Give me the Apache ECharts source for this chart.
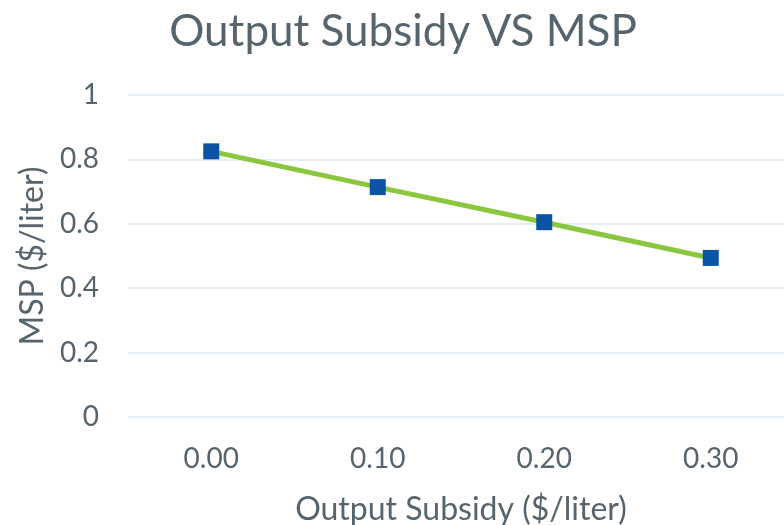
<!DOCTYPE html>
<html>
<head>
<meta charset="utf-8">
<script src="https://cdn.jsdelivr.net/npm/echarts@6/dist/echarts.min.js"></script>
<style>html,body{margin:0;padding:0;background:#fff}#c{width:784px;height:525px}</style>
</head>
<body>
<div id="c"></div>
<script>
var categories = ['0.00', '0.10', '0.20', '0.30'];
var mspValues = [0.825, 0.714, 0.605, 0.494];
var titleText = 'Output Subsidy VS MSP';
var xName = 'Output Subsidy ($/liter)';
var yName = 'MSP ($/liter)';

var txt = '#56646E';
var font = 'Lato';
var chart = echarts.init(document.getElementById('c'));
chart.setOption({
  animation: false,
  title: {
    text: titleText, left: 398, top: 5, textAlign: 'center',
    textStyle: { fontFamily: font, fontSize: 44, fontWeight: 'normal', color: txt }
  },
  grid: { left: 128, width: 666, top: 95, height: 322, containLabel: false, outerBoundsMode: 'none' },
  xAxis: {
    type: 'category', data: categories, boundaryGap: true,
    axisLine: { show: false }, axisTick: { show: false },
    axisLabel: { fontFamily: font, fontSize: 28, color: txt, margin: 28 },
    name: xName, nameLocation: 'middle', nameGap: 77,
    nameTextStyle: { fontFamily: font, fontSize: 32, color: txt }
  },
  yAxis: {
    type: 'value', min: 0, max: 1, interval: 0.2,
    axisLine: { show: false }, axisTick: { show: false },
    axisLabel: { fontFamily: font, fontSize: 28, color: txt, margin: 29 },
    splitLine: { lineStyle: { color: '#DDEAF4', width: 1.5 } },
    name: yName, nameLocation: 'middle', nameGap: 78,
    nameTextStyle: { fontFamily: font, fontSize: 32, color: txt }
  },
  series: [{
    type: 'line', data: mspValues,
    lineStyle: { color: '#8CC63F', width: 5 },
    symbol: 'rect', symbolSize: 16,
    itemStyle: { color: '#0B54A3' }
  }]
});
</script>
</body>
</html>
